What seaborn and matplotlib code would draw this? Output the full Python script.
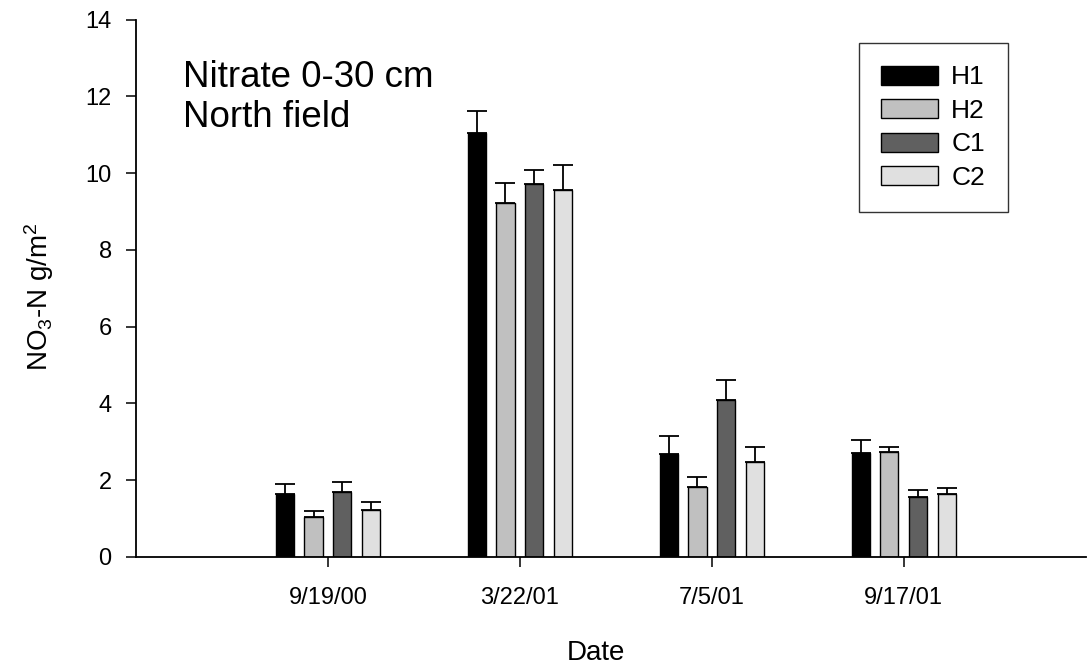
import numpy as np
import pandas as pd
import seaborn as sns
import matplotlib
matplotlib.use("Agg")
import matplotlib.pyplot as plt

# data
dates = ["9/19/00", "3/22/01", "7/5/01", "9/17/01"]
treatments = ["H1", "H2", "C1", "C2"]
h1 = [1.63, 11.04, 2.68, 2.70]
h2 = [1.03, 9.23, 1.83, 2.72]
c1 = [1.68, 9.73, 4.09, 1.55]
c2 = [1.21, 9.55, 2.48, 1.63]
h1_err = [0.26, 0.57, 0.47, 0.34]
h2_err = [0.17, 0.52, 0.25, 0.15]
c1_err = [0.27, 0.35, 0.52, 0.18]
c2_err = [0.22, 0.66, 0.37, 0.17]
y_ticks = [0, 2, 4, 6, 8, 10, 12, 14]
bar_colors = ["#000000", "#c0c0c0", "#606060", "#e0e0e0"]

means = [h1, h2, c1, c2]
errors = [h1_err, h2_err, c1_err, c2_err]

rows = []
for trt, vals in zip(treatments, means):
	for d, v in zip(dates, vals):
		rows.append({"Date": d, "Treatment": trt, "NO3": v})
df = pd.DataFrame(rows)

sns.set_theme(style="white")
plt.rcParams["font.family"] = ["Liberation Sans", "DejaVu Sans"]
plt.rcParams["mathtext.fontset"] = "custom"
plt.rcParams["mathtext.rm"] = "Liberation Sans"
plt.rcParams["mathtext.it"] = "Liberation Sans"
plt.rcParams["text.color"] = "black"
plt.rcParams["axes.labelcolor"] = "black"

fig = plt.figure(figsize=(10.87, 6.68), dpi=100)
ax = fig.add_axes([0.1251, 0.1666, 0.874, 0.8038])

sns.barplot(
	data=df, x="Date", y="NO3", hue="Treatment",
	order=dates, hue_order=treatments,
	palette=bar_colors, width=0.598, gap=0.365,
	edgecolor="black", linewidth=1.0, errorbar=None, saturation=1,
	ax=ax
)

# one-sided error bars on top of each bar
for cont, err in zip(ax.containers, errors):
	xs = [b.get_x() + b.get_width() / 2 for b in cont]
	ys = [b.get_height() for b in cont]
	ax.errorbar(xs, ys, yerr=[np.zeros(len(err)), err], fmt="none",
				ecolor="black", elinewidth=1.3, capsize=7.2, capthick=1.3, zorder=1)

ax.set_xlim(-1.0, 3.95)
ax.set_ylim(0, 14)
ax.set_yticks(y_ticks)
ax.set_yticklabels([str(t) for t in y_ticks])

for side in ["top", "right"]:
	ax.spines[side].set_visible(False)
for side in ["left", "bottom"]:
	ax.spines[side].set_color("black")
	ax.spines[side].set_linewidth(1.3)

ax.tick_params(axis="both", direction="out", length=7.5, width=1.1, colors="black",
			   labelsize=17, left=True, bottom=True)
ax.tick_params(axis="x", pad=14)
ax.tick_params(axis="y", pad=10)

ax.set_xlabel("Date", fontsize=20, color="black")
ax.xaxis.set_label_coords((596 - 136) / 950, -0.155)
ax.set_ylabel("NO$_3$-N g/m$^2$", fontsize=20, color="black")
ax.yaxis.set_label_coords(-(136 - 56) / 950, 0.485)

fig.text(183 / 1087, 1 - 60 / 668, "Nitrate 0-30 cm\nNorth field",
		 fontsize=26.5, va="top", ha="left", linespacing=1.2, color="black")

handles, labels = ax.get_legend_handles_labels()
if ax.get_legend() is not None:
	ax.get_legend().remove()
leg = fig.legend(
	handles, labels, loc="upper left",
	bbox_to_anchor=(859 / 1087, 1 - 43 / 668), bbox_transform=fig.transFigure,
	borderaxespad=0, fontsize=19, frameon=True, fancybox=False,
	handlelength=2.15, handleheight=0.72, handletextpad=0.5,
	labelspacing=0.36, borderpad=0.85, labelcolor="black"
)
leg.get_frame().set_edgecolor("black")
leg.get_frame().set_linewidth(1.0)

plt.savefig("out.png", dpi=100)
